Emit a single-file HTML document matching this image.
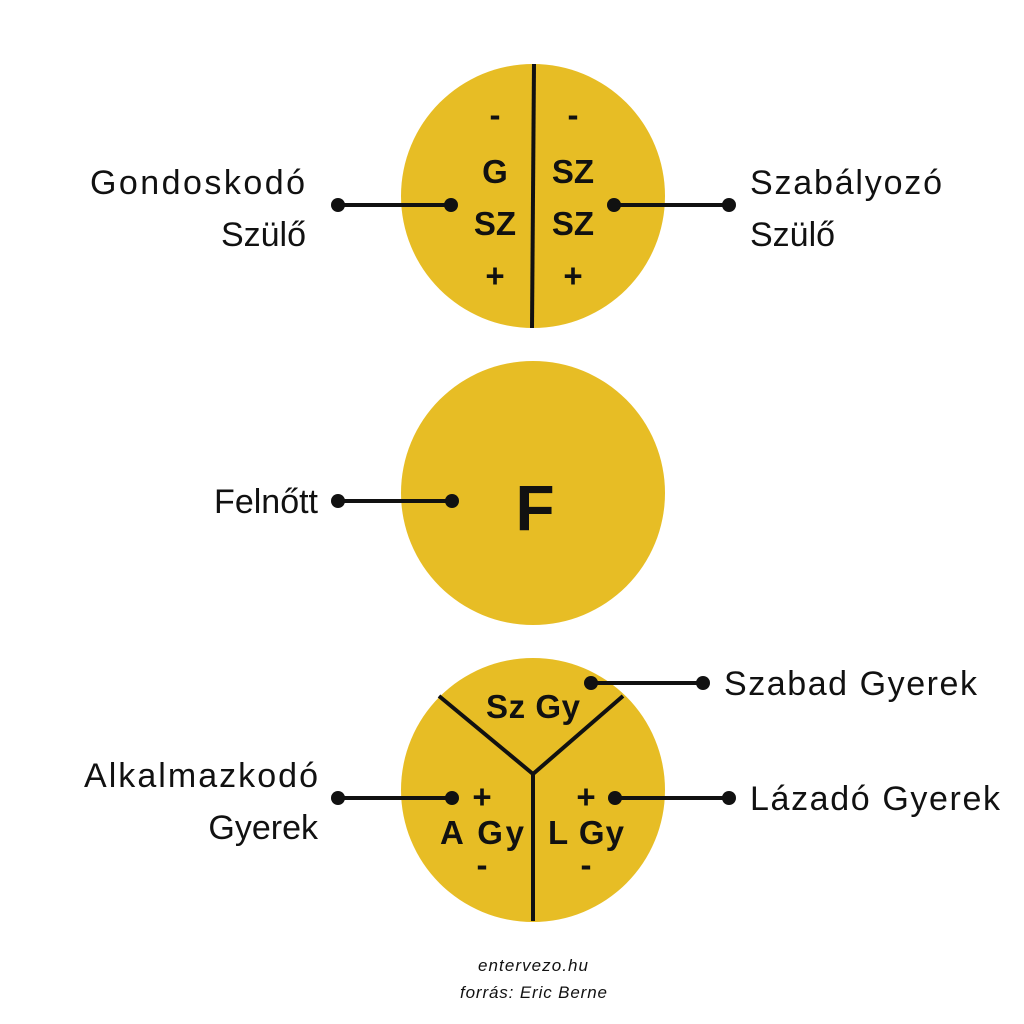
<!DOCTYPE html>
<html><head><meta charset="utf-8"><style>
html,body{margin:0;padding:0;background:#fff}
svg{display:block}
text{font-family:"Liberation Sans",sans-serif;fill:#111}
.l{font-size:34px}
.b{font-size:33px;font-weight:bold}
</style></head><body>
<svg width="1024" height="1024" viewBox="0 0 1024 1024">
<g fill="#e7bd25">
<circle cx="533" cy="196" r="132"/>
<circle cx="533" cy="493" r="132"/>
<circle cx="533" cy="790" r="132"/>
</g>
<g stroke="#111" stroke-width="4" fill="none">
<line x1="534" y1="64" x2="532" y2="328"/>
<line x1="338" y1="205" x2="451" y2="205"/>
<line x1="614" y1="205" x2="729" y2="205"/>
<line x1="338" y1="501" x2="452" y2="501"/>
<polyline points="439,696 533,774 623,696"/>
<line x1="533" y1="774" x2="533" y2="921"/>
<line x1="591" y1="683" x2="703" y2="683"/>
<line x1="338" y1="798" x2="452" y2="798"/>
<line x1="615" y1="798" x2="729" y2="798"/>
</g>
<g fill="#111">
<circle cx="338" cy="205" r="7"/><circle cx="451" cy="205" r="7"/>
<circle cx="614" cy="205" r="7"/><circle cx="729" cy="205" r="7"/>
<circle cx="338" cy="501" r="7"/><circle cx="452" cy="501" r="7"/>
<circle cx="591" cy="683" r="7"/><circle cx="703" cy="683" r="7"/>
<circle cx="338" cy="798" r="7"/><circle cx="452" cy="798" r="7"/>
<circle cx="615" cy="798" r="7"/><circle cx="729" cy="798" r="7"/>
</g>
<g class="b" text-anchor="middle">
<text x="495" y="126">-</text><text x="573" y="126">-</text>
<text x="495" y="183">G</text><text x="573" y="183">SZ</text>
<text x="495" y="235">SZ</text><text x="573" y="235">SZ</text>
<text x="495" y="287">+</text><text x="573" y="287">+</text>
<text x="535" y="530" style="font-size:64px">F</text>
<text x="533" y="718" textLength="94">Sz Gy</text>
<text x="482" y="808">+</text><text x="586" y="808">+</text>
<text x="482" y="844" textLength="84">A Gy</text><text x="586" y="844" textLength="76">L Gy</text>
<text x="482" y="876">-</text><text x="586" y="876">-</text>
</g>
<g class="l">
<text x="90" y="194" textLength="215">Gondoskodó</text>
<text x="306" y="246" text-anchor="end">Szülő</text>
<text x="750" y="194" textLength="192">Szabályozó</text>
<text x="750" y="246">Szülő</text>
<text x="318" y="513" text-anchor="end">Felnőtt</text>
<text x="724" y="695" textLength="253">Szabad Gyerek</text>
<text x="84" y="787" textLength="234">Alkalmazkodó</text>
<text x="318" y="839" text-anchor="end">Gyerek</text>
<text x="750" y="810" textLength="250">Lázadó Gyerek</text>
</g>
<g style="font-size:17px;font-style:italic">
<text x="478" y="971" textLength="110">entervezo.hu</text>
<text x="460" y="998" textLength="147">forrás: Eric Berne</text>
</g>
</svg>
</body></html>
